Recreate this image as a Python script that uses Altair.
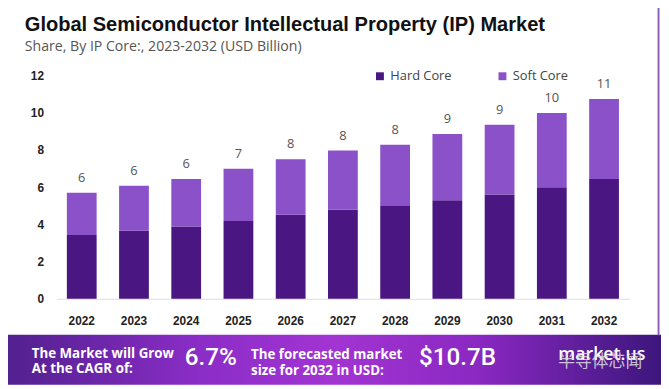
import altair as alt
import pandas as pd

years = ["2022", "2023", "2024", "2025", "2026", "2027", "2028", "2029", "2030", "2031", "2032"]
hard_core = [3.43, 3.66, 3.88, 4.18, 4.51, 4.78, 4.99, 5.29, 5.61, 6.00, 6.44]
soft_core = [2.27, 2.41, 2.56, 2.81, 2.99, 3.19, 3.29, 3.56, 3.74, 3.98, 4.30]
total_labels = ["6", "6", "6", "7", "8", "8", "8", "9", "9", "10", "11"]
series = ["Hard Core", "Soft Core"]
colors = ["#4a1681", "#8a51c8"]
y_ticks = [0, 2, 4, 6, 8, 10, 12]

title_text = "Global Semiconductor Intellectual Property (IP) Market"
subtitle_text = "Share, By IP Core:, 2023-2032 (USD Billion)"
cagr_lines = ["The Market will Grow", "At the CAGR of:"]
cagr_value = "6.7%"
forecast_lines = ["The forecasted market", "size for 2032 in USD:"]
forecast_value = "$10.7B"
brand = "market.us"
watermark = "半导体芯闻"

rows = []
for i, y in enumerate(years):
    rows.append({"year": y, "core": series[0], "value": hard_core[i], "ord": 0})
    rows.append({"year": y, "core": series[1], "value": soft_core[i], "ord": 1})
df = pd.DataFrame(rows)

tot = pd.DataFrame({
    "year": years,
    "total": [h + s for h, s in zip(hard_core, soft_core)],
    "label": total_labels,
})

W, H = 580, 226
xscale = alt.Scale(paddingInner=0.43, paddingOuter=0.2)
yscale = alt.Scale(domain=[0, 12], nice=False)
xaxis = alt.Axis(labelAngle=0, labelFont="Liberation Sans", labelFontWeight="bold",
                 labelFontSize=12, labelColor="#222222", labelPadding=17,
                 ticks=False, domainColor="#dddddd", domainWidth=1, grid=False)
yaxis = alt.Axis(values=y_ticks, grid=False, domain=False, ticks=False,
                 labelOverlap=False,
                 labelFont="Liberation Sans", labelFontWeight="bold",
                 labelFontSize=12, labelColor="#222222", labelPadding=13)

bars = alt.Chart(df).mark_bar().encode(
    x=alt.X("year:N", sort=years, title=None, scale=xscale, axis=xaxis),
    y=alt.Y("value:Q", stack="zero", scale=yscale, title=None, axis=yaxis),
    color=alt.Color("core:N", scale=alt.Scale(domain=series, range=colors),
                    legend=alt.Legend(title=None, orient="none", legendX=321, legendY=-6,
                                      direction="horizontal", symbolType="square",
                                      symbolSize=64, symbolStrokeWidth=0,
                                      labelFont="Open Sans", labelFontSize=13,
                                      labelColor="#444444", labelOffset=4,
                                      columnPadding=44, padding=0)),
    order=alt.Order("ord:Q", sort="ascending"),
)

labels = alt.Chart(tot).mark_text(font="Open Sans", fontSize=13, color="#555555",
                                  baseline="alphabetic", dy=-11).encode(
    x=alt.X("year:N", sort=years, title=None, scale=xscale, axis=xaxis),
    y=alt.Y("total:Q", scale=yscale, title=None, axis=yaxis),
    text="label:N",
)

one = pd.DataFrame({"k": [0]})

def txt(text, x, y, **kw):
    return alt.Chart(one).mark_text(align="left", baseline="alphabetic", **kw).encode(
        x=alt.value(x), y=alt.value(y), text=alt.value(text))

grad = alt.Gradient(gradient="linear", x1=0, x2=1, y1=0, y2=0, stops=[
    alt.GradientStop(color="#52208f", offset=0),
    alt.GradientStop(color="#8c2dc8", offset=0.3),
    alt.GradientStop(color="#a234d2", offset=0.5),
    alt.GradientStop(color="#8a28c2", offset=0.72),
    alt.GradientStop(color="#3c167c", offset=1),
])

banner = alt.Chart(one).mark_rect(fill=grad).encode(
    x=alt.value(-49), x2=alt.value(612), y=alt.value(262.5), y2=alt.value(313))

border = alt.Chart(one).mark_rule(color="#8c62b8", strokeWidth=2).encode(
    x=alt.value(609.5), y=alt.value(-74), y2=alt.value(263))

layers = [
    banner, border, bars, labels,
    txt(title_text, -32, -45.5, font="Liberation Sans", fontSize=20.3, fontWeight="bold", color="#111111"),
    txt(subtitle_text, -32, -24.5, font="Open Sans", fontSize=14.3, color="#555555"),
    txt(cagr_lines, -25, 285.5, font="Open Sans", fontSize=13.5, fontWeight="bold", color="white", lineHeight=16),
    txt(cagr_value, 130, 293.5, font="Roboto", fontSize=24.5, fontWeight=500, color="white"),
    txt(forecast_lines, 197, 287, font="Open Sans", fontSize=13.5, fontWeight="bold", color="white", lineHeight=16),
    txt(forecast_value, 367, 293.5, font="Roboto", fontSize=24.5, fontWeight=500, color="white"),
    txt(brand, 508, 288, font="Open Sans", fontSize=18, fontWeight=600, color="white"),
    txt(watermark, 508, 295, font="Noto Sans CJK SC", fontSize=17, color="#dddddd", opacity=0.85),
]

chart = alt.layer(*layers).properties(
    width=W, height=H,
    autosize=alt.AutoSizeParams(type="none"),
    padding={"left": 49, "top": 66, "right": 32, "bottom": 89},
).configure_view(stroke=None)

chart.save("out.html", embed_options={"renderer": "svg", "actions": False})
